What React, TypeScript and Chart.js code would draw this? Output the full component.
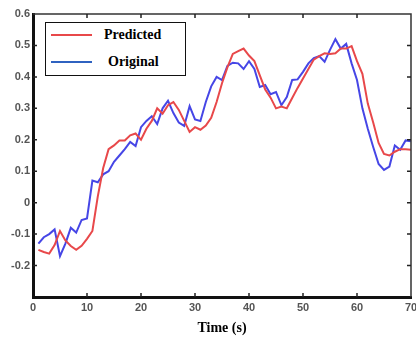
import React, { useEffect, useRef } from "react";
import { Chart, registerables } from "chart.js";

Chart.register(...registerables);

const timeSteps: number[] = Array.from({ length: 70 }, (_, i) => i + 1);

const original: number[] = [
  -0.13, -0.11, -0.1, -0.085, -0.17, -0.13, -0.08, -0.095, -0.055, -0.05,
  0.07, 0.065, 0.09, 0.1, 0.13, 0.15, 0.17, 0.193, 0.18, 0.24,
  0.26, 0.275, 0.25, 0.3, 0.324, 0.285, 0.255, 0.244, 0.307, 0.265,
  0.26, 0.32, 0.37, 0.4, 0.39, 0.435, 0.445, 0.443, 0.425, 0.45,
  0.425, 0.368, 0.374, 0.345, 0.352, 0.31, 0.336, 0.39, 0.392, 0.416,
  0.443, 0.46, 0.466, 0.448, 0.486, 0.52, 0.49, 0.505, 0.443, 0.39,
  0.3, 0.235, 0.177, 0.123, 0.104, 0.115, 0.182, 0.168, 0.198, 0.195,
];

const predicted: number[] = [
  -0.15, -0.157, -0.162, -0.135, -0.09, -0.12, -0.138, -0.15, -0.137, -0.115,
  -0.09, 0.02, 0.11, 0.17, 0.182, 0.198, 0.198, 0.214, 0.22, 0.2,
  0.235, 0.26, 0.3, 0.283, 0.31, 0.32, 0.295, 0.26, 0.225, 0.24,
  0.232, 0.245, 0.27, 0.32, 0.38, 0.43, 0.473, 0.482, 0.49, 0.468,
  0.45, 0.405, 0.36, 0.334, 0.3, 0.306, 0.3, 0.333, 0.365, 0.395,
  0.425, 0.455, 0.466, 0.475, 0.473, 0.475, 0.49, 0.49, 0.498, 0.45,
  0.41, 0.315, 0.255, 0.19, 0.155, 0.15, 0.162, 0.17, 0.17, 0.168,
];

const seriesNames: string[] = ["Predicted", "Original"];
const xTitle = "Time (s)";

const RED = "#e8484a";
const BLUE = "#4646e6";

const frameTicks = {
  id: "frameTicks",
  afterDraw(chart: any) {
    const { ctx, chartArea, scales } = chart;
    const { left, right, top, bottom } = chartArea;
    ctx.save();
    ctx.strokeStyle = "#333";
    ctx.lineWidth = 1.5;
    ctx.beginPath();
    ctx.moveTo(left, top);
    ctx.lineTo(right, top);
    ctx.lineTo(right, bottom);
    ctx.stroke();
    ctx.lineWidth = 1.5;
    ctx.strokeStyle = "#222";
    const len = 4;
    scales.x.ticks.forEach((t: any) => {
      if (t.value <= scales.x.min || t.value >= scales.x.max) return;
      const px = scales.x.getPixelForValue(t.value);
      ctx.beginPath();
      ctx.moveTo(px, bottom);
      ctx.lineTo(px, bottom - len);
      ctx.moveTo(px, top);
      ctx.lineTo(px, top + len);
      ctx.stroke();
    });
    scales.y.ticks.forEach((t: any) => {
      if (t.value <= scales.y.min + 1e-9 || t.value >= scales.y.max - 1e-9) return;
      const py = scales.y.getPixelForValue(t.value);
      ctx.beginPath();
      ctx.moveTo(left, py);
      ctx.lineTo(left + len, py);
      ctx.moveTo(right, py);
      ctx.lineTo(right - len, py);
      ctx.stroke();
    });
    ctx.restore();
  },
};

export default function App() {
  const ref = useRef<HTMLCanvasElement>(null);

  useEffect(() => {
    if (!ref.current) return;
    const tickFont = { family: "'Liberation Sans', Arial, sans-serif", size: 11, weight: "bold" as const };
    const chart = new Chart(ref.current, {
      type: "line",
      data: {
        labels: timeSteps,
        datasets: [
          {
            label: seriesNames[0],
            data: timeSteps.map((t, i) => ({ x: t, y: predicted[i] })),
            borderColor: RED,
            borderWidth: 2,
            pointRadius: 0,
            tension: 0,
          },
          {
            label: seriesNames[1],
            data: timeSteps.map((t, i) => ({ x: t, y: original[i] })),
            borderColor: BLUE,
            borderWidth: 2,
            pointRadius: 0,
            tension: 0,
          },
        ],
      },
      options: {
        responsive: false,
        animation: false,
        layout: { padding: { top: 14, right: 5, left: 0, bottom: 0 } },
        plugins: { legend: { display: false }, tooltip: { enabled: false } },
        scales: {
          x: {
            type: "linear",
            min: 0,
            max: 70,
            ticks: { stepSize: 10, color: "#555", font: tickFont, padding: 4, maxRotation: 0 },
            grid: { display: false, drawTicks: false },
            border: { display: true, color: "#111", width: 3 },
            title: {
              display: true,
              text: xTitle,
              color: "#000",
              font: { family: "'Liberation Serif', 'Times New Roman', serif", size: 14, weight: "bold" },
              padding: { top: 0, bottom: 4 },
            },
            afterFit(scale: any) {
              scale.height = 44;
              scale.paddingLeft = 0;
              scale.paddingRight = 0;
            },
          },
          y: {
            min: -0.3,
            max: 0.6,
            ticks: {
              stepSize: 0.1,
              color: "#555",
              font: tickFont,
              padding: 3,
              callback: (v: any) => {
                const r = Math.round(Number(v) * 10) / 10;
                if (r === -0.3) return "";
                return String(r);
              },
            },
            grid: { display: false, drawTicks: false },
            border: { display: true, color: "#111", width: 3 },
            afterFit(scale: any) {
              scale.width = 33;
              scale.paddingTop = 0;
              scale.paddingBottom = 0;
            },
          },
        },
      },
      plugins: [frameTicks],
    });
    return () => chart.destroy();
  }, []);

  const legendText: React.CSSProperties = {
    position: "absolute",
    fontFamily: "'Liberation Serif', 'Times New Roman', serif",
    fontWeight: "bold",
    fontSize: 14,
    lineHeight: "16px",
    color: "#000",
  };

  return (
    <div style={{ position: "fixed", left: 0, top: 0, width: 416, height: 341, background: "#fff" }}>
      <canvas ref={ref} width={416} height={341} style={{ display: "block" }} />
      <div
        style={{
          position: "absolute",
          left: 45,
          top: 22,
          width: 139,
          height: 52,
          border: "1.5px solid #111",
          background: "#fff",
        }}
      >
        <div style={{ position: "absolute", left: 5, top: 11, width: 41, height: 2, background: RED }} />
        <div style={{ ...legendText, left: 58, top: 4 }}>{seriesNames[0]}</div>
        <div style={{ position: "absolute", left: 5, top: 38, width: 41, height: 2, background: "#2f62c0" }} />
        <div style={{ ...legendText, left: 62, top: 31 }}>{seriesNames[1]}</div>
      </div>
    </div>
  );
}
